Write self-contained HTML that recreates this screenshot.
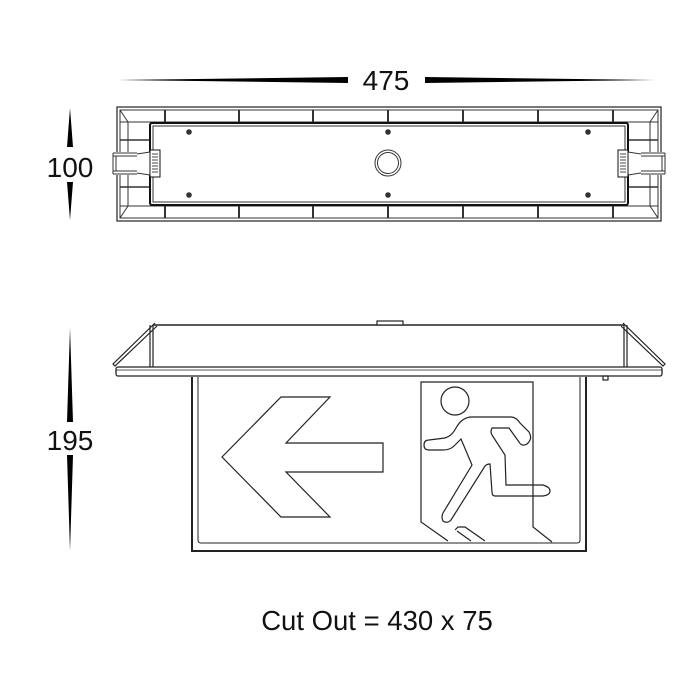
<!DOCTYPE html>
<html><head><meta charset="utf-8"><style>
html,body{margin:0;padding:0;background:#fff;}
svg{display:block;}
text{font-family:"Liberation Sans",Arial,sans-serif;fill:#111;}
</style></head><body>
<svg width="700" height="700" viewBox="0 0 700 700" xmlns="http://www.w3.org/2000/svg">
<!-- dimension 475 -->
<polygon points="118,80 348,77 348,83" fill="#000"/>
<polygon points="425,77 655,80 425,83" fill="#000"/>
<text x="386" y="90" font-size="28" text-anchor="middle">475</text>
<!-- dimension 100 -->
<polygon points="70,108 73,147 67,147" fill="#000"/>
<polygon points="67,182 73,182 70,220" fill="#000"/>
<text x="70" y="177" font-size="28" text-anchor="middle">100</text>
<!-- dimension 195 -->
<polygon points="70,328 73,422 67,422" fill="#000"/>
<polygon points="67,455 73,455 70,551" fill="#000"/>
<text x="70" y="450" font-size="28" text-anchor="middle">195</text>

<!-- top view -->
<g fill="none" stroke="#333" stroke-width="1">
<rect x="117" y="107" width="544" height="114" stroke-width="1.3"/>
<rect x="120" y="110" width="538" height="108"/>
<line x1="120" y1="122" x2="658" y2="122"/>
<line x1="120" y1="206" x2="658" y2="206"/>
<line x1="128" y1="122" x2="128" y2="206"/>
<line x1="650" y1="122" x2="650" y2="206"/>
<line x1="120" y1="110" x2="128" y2="122"/><line x1="658" y1="110" x2="650" y2="122"/>
<line x1="120" y1="218" x2="128" y2="206"/><line x1="658" y1="218" x2="650" y2="206"/>
<line x1="120" y1="140" x2="150" y2="140" stroke-width="1.5"/><line x1="120" y1="187" x2="150" y2="187" stroke-width="1.5"/>
<line x1="628" y1="140" x2="658" y2="140" stroke-width="1.5"/><line x1="628" y1="187" x2="658" y2="187" stroke-width="1.5"/>
<g stroke-width="2">
<line x1="165" y1="110" x2="165" y2="122"/><line x1="239" y1="110" x2="239" y2="122"/><line x1="313" y1="110" x2="313" y2="122"/><line x1="388" y1="110" x2="388" y2="122"/><line x1="463" y1="110" x2="463" y2="122"/><line x1="538" y1="110" x2="538" y2="122"/><line x1="613" y1="110" x2="613" y2="122"/>
<line x1="165" y1="206" x2="165" y2="218"/><line x1="239" y1="206" x2="239" y2="218"/><line x1="313" y1="206" x2="313" y2="218"/><line x1="388" y1="206" x2="388" y2="218"/><line x1="463" y1="206" x2="463" y2="218"/><line x1="538" y1="206" x2="538" y2="218"/><line x1="613" y1="206" x2="613" y2="218"/>
</g>
<rect x="150" y="123" width="478" height="82" rx="2" fill="#fff" stroke="#111" stroke-width="2"/>
<rect x="153" y="126" width="472" height="76" stroke-width="1"/>
<circle cx="388" cy="163" r="13"/><circle cx="388" cy="163" r="10.5"/>
<!-- clips -->
<rect x="112" y="152" width="38" height="23" fill="#fff" stroke="none"/>
<line x1="113" y1="153" x2="137" y2="153"/><line x1="113" y1="156" x2="137" y2="156"/>
<line x1="113" y1="171" x2="137" y2="171"/><line x1="113" y1="174" x2="137" y2="174"/>
<line x1="113" y1="153" x2="113" y2="174"/><line x1="116" y1="156" x2="116" y2="171"/>
<line x1="137" y1="154" x2="150" y2="152"/><line x1="137" y1="173" x2="150" y2="175"/>
<rect x="150" y="150" width="10" height="27" fill="#fff" stroke="#111"/>
<path d="M152,154h6M152,157h6M152,160h6M152,163h6M152,166h6M152,169h6M152,172h6" stroke="#444"/>
<rect x="628" y="152" width="38" height="23" fill="#fff" stroke="none"/>
<line x1="641" y1="153" x2="665" y2="153"/><line x1="641" y1="156" x2="665" y2="156"/>
<line x1="641" y1="171" x2="665" y2="171"/><line x1="641" y1="174" x2="665" y2="174"/>
<line x1="665" y1="153" x2="665" y2="174"/><line x1="662" y1="156" x2="662" y2="171"/>
<line x1="628" y1="152" x2="641" y2="154"/><line x1="628" y1="175" x2="641" y2="173"/>
<rect x="618" y="150" width="10" height="27" fill="#fff" stroke="#111"/>
<path d="M620,154h6M620,157h6M620,160h6M620,163h6M620,166h6M620,169h6M620,172h6" stroke="#444"/>
</g>
<g fill="#333">
<circle cx="189" cy="132" r="2.8"/><circle cx="388" cy="132" r="2.8"/><circle cx="588" cy="132" r="2.8"/>
<circle cx="189" cy="195" r="2.8"/><circle cx="388" cy="195" r="2.8"/><circle cx="588" cy="195" r="2.8"/>
</g>

<!-- side view -->
<g fill="none" stroke="#222" stroke-width="1.2">
<line x1="153" y1="325" x2="624" y2="325" stroke-width="1.5"/>
<rect x="377" y="321" width="26" height="4" fill="#fff"/>
<line x1="150" y1="325" x2="150" y2="367"/><line x1="153" y1="325" x2="153" y2="367"/>
<line x1="624" y1="325" x2="624" y2="367"/><line x1="627" y1="325" x2="627" y2="367"/>
<path d="M155,323 L113,364 L115,366 L157,326"/>
<path d="M623,323 L665,364 L663,366 L621,326"/>
<rect x="116" y="367" width="546" height="9" rx="2" stroke-width="1.3"/>
<line x1="116" y1="370" x2="662" y2="370" stroke-width="0.8"/>
<rect x="603" y="376" width="5" height="4"/>
<path d="M192,377 V551 H586 V377" stroke-width="2"/>
<path d="M198,377 V540 Q198,543 201,543 H577 Q580,543 580,540 V377" stroke-width="1"/>
<!-- arrow -->
<polygon points="222,457 281,397 330,397 286,443 383,443 383,472 286,472 330,517 281,517" stroke-width="1.2"/>
<!-- exit panel -->
<path d="M448,541 L421,522 V382 H533 V527 L552,542" stroke-width="1.2"/>
<circle cx="455" cy="401" r="14"/>
<path d="M429,440 L445,438 Q452,436 456,428 Q462,417 472,417 L511,417 Q516,417 520,423 L529,432 Q533,439 527,444 Q522,447 519,442 L509,428 L492,428 Q490,432 492,435 L505,455 L506,485 L543,485 Q550,487 550,491 Q550,495 543,496 L495,496 Q492,496 492,492 L490,464 Q487,464 485,466 L451,520 Q447,524 443,521 Q441,517 443,513 L472,465 L461,439 L454,446 Q450,450 443,450 L429,450 Q424,450 424,445 Q424,440 429,440 Z" stroke-width="1.2"/>
<path d="M455,530 L458,527 L465,527 L485,541" stroke-width="1.2"/>
<path d="M457,531 L471,541" stroke-width="1.2"/>
</g>

<text x="377" y="630" font-size="27.5" text-anchor="middle">Cut Out = 430 x 75</text>
</svg>
</body></html>
